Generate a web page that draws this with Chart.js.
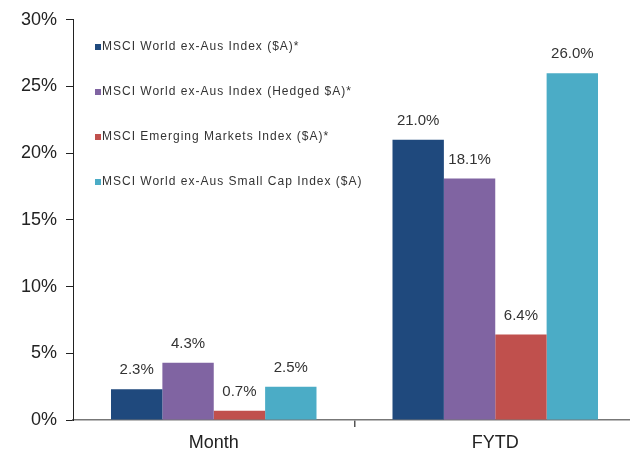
<!DOCTYPE html>
<html>
<head>
<meta charset="utf-8">
<script src="https://cdn.jsdelivr.net/npm/chart.js@4.4.1/dist/chart.umd.min.js"></script>
<style>
  html, body { margin: 0; padding: 0; background: #fff; overflow: hidden; }
  #wrap { width: 636px; height: 454px; position: relative; }
</style>
</head>
<body>
<div id="wrap"><canvas id="chart"></canvas></div>
<script>
// Chart data
const categories = ['Month', 'FYTD'];
const seriesNames = [
  'MSCI World ex-Aus Index ($A)*',
  'MSCI World ex-Aus Index (Hedged $A)*',
  'MSCI Emerging Markets Index ($A)*',
  'MSCI World ex-Aus Small Cap Index ($A)'
];
const worldValues = [2.3, 21.0];
const hedgedValues = [4.3, 18.1];
const emergingValues = [0.7, 6.4];
const smallCapValues = [2.5, 26.0];
const yTicks = [0, 5, 10, 15, 20, 25, 30];

const colors = ['#1F497D', '#8064A2', '#C0504D', '#4BACC6'];
const seriesValues = [worldValues, hedgedValues, emergingValues, smallCapValues];

// value labels above bars
const valueLabels = {
  id: 'valueLabels',
  afterDatasetsDraw(chart) {
    const ctx = chart.ctx;
    ctx.save();
    ctx.font = '15px "Liberation Sans", Arial, sans-serif';
    ctx.fillStyle = '#333';
    ctx.textAlign = 'center';
    ctx.textBaseline = 'middle';
    chart.data.datasets.forEach((ds, i) => {
      chart.getDatasetMeta(i).data.forEach((bar, j) => {
        ctx.fillText(ds.data[j].toFixed(1) + '%', bar.x, bar.y - 19);
      });
    });
    ctx.restore();
  }
};

// legend drawn inside the plot, top-left
const insideLegend = {
  id: 'insideLegend',
  afterDraw(chart) {
    const ctx = chart.ctx;
    const x0 = chart.chartArea.left + 22;
    let y = 47;
    ctx.save();
    ctx.font = '12px "Liberation Sans", Arial, sans-serif';
    ctx.letterSpacing = '1px';
    ctx.textBaseline = 'middle';
    chart.data.datasets.forEach(ds => {
      ctx.fillStyle = ds.backgroundColor;
      ctx.fillRect(x0, y - 3, 6, 6);
      ctx.fillStyle = '#333';
      ctx.fillText(ds.label, x0 + 7, y);
      y += 45;
    });
    ctx.restore();
  }
};

new Chart(document.getElementById('chart'), {
  type: 'bar',
  data: {
    labels: categories,
    datasets: seriesNames.map((name, i) => ({
      label: name,
      data: seriesValues[i],
      backgroundColor: colors[i],
      borderWidth: 0,
      barPercentage: 1.0,
      categoryPercentage: 0.73
    }))
  },
  options: {
    responsive: true,
    maintainAspectRatio: false,
    animation: false,
    layout: { padding: { top: 12, right: 0, left: 0, bottom: 0 } },
    plugins: {
      legend: { display: false },
      tooltip: { enabled: false }
    },
    scales: {
      x: {
        afterFit: scale => { scale.height = 34; },
        grid: {
          drawOnChartArea: false,
          tickLength: 7,
          lineWidth: 1.5,
          color: c => (c.index === 1 ? '#555' : 'rgba(0,0,0,0)')
        },
        border: { color: '#777', width: 1.5 },
        ticks: {
          color: '#222',
          padding: 5,
          font: { family: '"Liberation Sans", Arial, sans-serif', size: 18 }
        }
      },
      y: {
        min: 0,
        max: 30,
        afterBuildTicks: scale => { scale.ticks = yTicks.map(v => ({ value: v })); },
        afterFit: scale => { scale.width = 73; },
        grid: { drawOnChartArea: false, tickLength: 7, color: '#222' },
        border: { color: '#222', width: 1 },
        ticks: {
          color: '#222',
          padding: 9,
          callback: v => v + '%',
          font: { family: '"Liberation Sans", Arial, sans-serif', size: 18 }
        }
      }
    }
  },
  plugins: [valueLabels, insideLegend]
});
</script>
</body>
</html>
